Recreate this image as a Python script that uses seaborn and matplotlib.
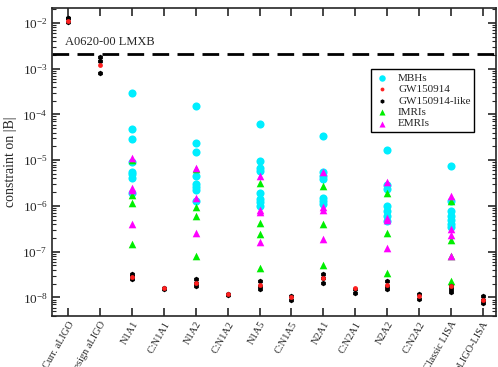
import numpy as np
import pandas as pd
import matplotlib
matplotlib.use("Agg")
import matplotlib.pyplot as plt
from matplotlib.ticker import LogLocator, NullFormatter
import seaborn as sns

categories = ["Curr. aLIGO", "Design aLIGO", "N1A1", "C:N1A1", "N1A2", "C:N1A2", "N1A5",
              "C:N1A5", "N2A1", "C:N2A1", "N2A2", "C:N2A2", "Classic LISA", "aLIGO-LISA"]

# MBHs
mbh_cats = ["N1A1"] * 8 + ["N1A2"] * 8 + ["N1A5"] * 8 + ["N2A1"] * 7 + ["N2A2"] * 7 + ["Classic LISA"] * 7
mbh_vals = [3.0e-4, 4.7e-5, 2.9e-5, 9.1e-6, 5.6e-6, 4.9e-6, 4.0e-6, 1.9e-6,
            1.55e-4, 2.4e-5, 1.5e-5, 4.5e-6, 3.0e-6, 2.6e-6, 2.2e-6, 1.3e-6,
            6.3e-5, 9.7e-6, 6.6e-6, 5.8e-6, 1.95e-6, 1.4e-6, 1.2e-6, 1.0e-6,
            3.4e-5, 5.6e-6, 4.6e-6, 3.8e-6, 1.5e-6, 1.3e-6, 1.1e-6,
            1.7e-5, 2.9e-6, 2.3e-6, 9.7e-7, 7.6e-7, 5.9e-7, 4.6e-7,
            7.6e-6, 1.3e-6, 7.6e-7, 6.0e-7, 5.0e-7, 4.1e-7, 3.4e-7]

# IMRIs
imri_cats = ["N1A1"] * 4 + ["N1A2"] * 4 + ["N1A5"] * 4 + ["N2A1"] * 3 + ["N2A2"] * 3 + ["Classic LISA"] * 4
imri_vals = [1.0e-5, 1.75e-6, 1.15e-6, 1.5e-7,
             6.3e-6, 9.3e-7, 5.9e-7, 7.9e-8,
             3.2e-6, 4.3e-7, 2.4e-7, 4.4e-8,
             2.7e-6, 4.1e-7, 5.2e-8,
             1.9e-6, 2.6e-7, 3.5e-8,
             1.3e-6, 1.8e-7, 7.9e-8, 2.3e-8]

# EMRIs
emri_cats = ["N1A1"] * 4 + ["N1A2"] * 3 + ["N1A5"] * 4 + ["N2A1"] * 4 + ["N2A2"] * 4 + ["Classic LISA"] * 4
emri_vals = [1.1e-5, 2.4e-6, 2.2e-6, 4.1e-7,
             6.8e-6, 1.5e-6, 2.6e-7,
             4.4e-6, 8.1e-7, 7.5e-7, 1.6e-7,
             5.4e-6, 9.3e-7, 8.1e-7, 1.9e-7,
             3.3e-6, 5.4e-7, 5.0e-7, 1.2e-7,
             1.67e-6, 3.2e-7, 2.3e-7, 8.1e-8]

# GW150914-like
like_cats = ["Curr. aLIGO"] * 3 + ["Design aLIGO"] * 3 + ["N1A1"] * 3 + ["C:N1A1"] * 2 + ["N1A2"] * 3 + \
            ["C:N1A2"] * 2 + ["N1A5"] * 3 + ["C:N1A5"] * 2 + ["N2A1"] * 3 + ["C:N2A1"] * 2 + \
            ["N2A2"] * 3 + ["C:N2A2"] * 2 + ["Classic LISA"] * 3 + ["aLIGO-LISA"] * 3
like_vals = [1.3e-2, 1.25e-2, 1.05e-2,
             1.8e-3, 1.5e-3, 7.9e-4,
             3.3e-8, 2.9e-8, 2.5e-8,
             1.6e-8, 1.5e-8,
             2.5e-8, 2.1e-8, 1.8e-8,
             1.2e-8, 1.15e-8,
             2.3e-8, 1.8e-8, 1.5e-8,
             1.05e-8, 8.7e-9,
             3.2e-8, 2.6e-8, 2.1e-8,
             1.5e-8, 1.23e-8,
             2.3e-8, 1.8e-8, 1.5e-8,
             1.17e-8, 9.3e-9,
             1.8e-8, 1.5e-8, 1.3e-8,
             1.05e-8, 9.0e-9, 7.7e-9]

# GW150914
gw_cats = ["Curr. aLIGO", "Design aLIGO", "N1A1", "C:N1A1", "N1A2", "C:N1A2", "N1A5", "C:N1A5",
           "N2A1", "C:N2A1", "N2A2", "C:N2A2", "Classic LISA", "aLIGO-LISA"]
gw_vals = [1.1e-2, 1.17e-3, 2.8e-8, 1.6e-8, 2.1e-8, 1.17e-8, 1.85e-8, 1.0e-8,
           2.6e-8, 1.6e-8, 1.9e-8, 1.1e-8, 1.8e-8, 9.0e-9]

lmxb_value = 2.1e-3

sns.set_style("ticks")
plt.rcParams["font.family"] = ["Liberation Serif", "DejaVu Serif"]
plt.rcParams["mathtext.fontset"] = "stix"

fig, ax = plt.subplots(figsize=(4.98, 3.67), dpi=100)

series = [
    (mbh_cats, mbh_vals, "MBHs", "#00eeff", "o", 34),
    (imri_cats, imri_vals, "IMRIs", "#00ee00", "^", 30),
    (emri_cats, emri_vals, "EMRIs", "#ff00ff", "^", 30),
    (like_cats, like_vals, "GW150914-like", "black", "h", 16),
    (gw_cats, gw_vals, "GW150914", "#ff2020", "o", 12),
]
handles = {}
for cats, vals, label, color, marker, size in series:
    df = pd.DataFrame({"cat": cats, "val": vals})
    sns.stripplot(data=df, x="cat", y="val", order=categories, jitter=False, color=color,
                  marker=marker, size=np.sqrt(size), linewidth=0, ax=ax, label=label, zorder=3)
    handles[label] = ax.collections[-1]

ax.set_yscale("log")
ax.set_ylim(4e-9, 2.1e-2)
ax.set_xlim(-0.5, 13.4)

ax.axhline(lmxb_value, color="black", linestyle=(0, (6, 3)), linewidth=2, zorder=2)
ax.text(-0.1, lmxb_value * 1.35, "A0620-00 LMXB", fontsize=9, va="bottom", ha="left")

ax.set_xlabel("")
ax.set_ylabel("constraint on |B|", fontsize=10)
ax.set_xticks(range(len(categories)))
ax.set_xticklabels(categories, rotation=60, ha="right", rotation_mode="anchor", fontsize=7.5)
ax.set_yticks([1e-8, 1e-7, 1e-6, 1e-5, 1e-4, 1e-3, 1e-2])
ax.yaxis.set_minor_locator(LogLocator(base=10, subs=np.arange(2, 10) * 1.0, numticks=20))
ax.yaxis.set_minor_formatter(NullFormatter())
ax.tick_params(axis="both", which="major", direction="in", length=6, width=1.2,
               top=True, right=True, labelsize=9.5)
ax.tick_params(axis="x", which="major", labelsize=7.5, pad=3)
ax.tick_params(axis="y", which="minor", direction="in", length=3, width=0.8, right=True)
for sp in ax.spines.values():
    sp.set_linewidth(1.2)

order = ["MBHs", "GW150914", "GW150914-like", "IMRIs", "EMRIs"]
leg = ax.legend([handles[k] for k in order], order, loc="upper right", bbox_to_anchor=(0.965, 0.82),
                fancybox=False, edgecolor="black", framealpha=1, fontsize=8,
                handletextpad=0.8, borderpad=0.35, labelspacing=0.15, handlelength=1.3,
                markerscale=0.8)
leg.get_frame().set_linewidth(1.0)

plt.subplots_adjust(left=0.105, right=0.995, top=0.978, bottom=0.14)
plt.savefig("out.png", dpi=100)
